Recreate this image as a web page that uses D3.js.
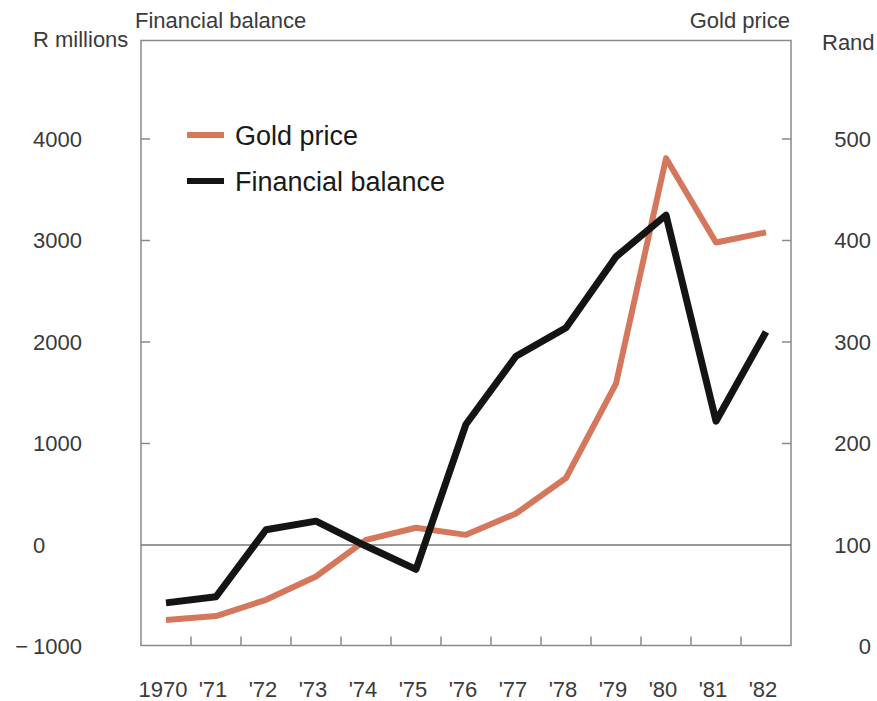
<!DOCTYPE html>
<html>
<head>
<meta charset="utf-8">
<script src="https://cdn.jsdelivr.net/npm/d3@7"></script>
<style>
  html, body { margin: 0; padding: 0; background: #ffffff; }
  svg { display: block; }
  text { font-family: "Liberation Sans", Arial, Helvetica, sans-serif; }
</style>
</head>
<body>
<div id="chart"></div>
<script>
// ---- data ----
const years = ["1970", "'71", "'72", "'73", "'74", "'75", "'76", "'77", "'78", "'79", "'80", "'81", "'82"];
const financialBalance = [-570, -510, 150, 235, -10, -240, 1190, 1860, 2140, 2840, 3250, 1220, 2100]; // R millions
const goldPrice = [26, 30, 46, 69, 105, 117, 110, 131, 166, 259, 481, 398, 408]; // Rand
const leftTicks = [-1000, 0, 1000, 2000, 3000, 4000];
const rightTicks = [0, 100, 200, 300, 400, 500];
const seriesNames = ["Gold price", "Financial balance"];

const W = 877, H = 701;
const frame = { left: 141, right: 791, top: 40.5, bottom: 645.5 };
const goldColor = "#d5775c";
const fbColor = "#141414";
const axisColor = "#8a8a8a";
const textColor = "#3a3a3a";

const svg = d3.select("#chart").append("svg").attr("width", W).attr("height", H);
svg.append("rect").attr("width", W).attr("height", H).attr("fill", "#ffffff");

const x = d3.scaleBand().domain(years).range([frame.left, frame.right]).padding(0);
const yL = d3.scaleLinear().domain([-1000, 4000]).range([646.5, 139]);
const yR = d3.scaleLinear().domain([0, 500]).range([646.5, 139]);
const cx = d => x(d) + x.bandwidth() / 2;

// frame
svg.append("rect")
  .attr("x", frame.left).attr("y", frame.top)
  .attr("width", frame.right - frame.left).attr("height", frame.bottom - frame.top)
  .attr("fill", "none").attr("stroke", axisColor).attr("stroke-width", 1.5);

// zero line
svg.append("line")
  .attr("x1", frame.left).attr("x2", frame.right)
  .attr("y1", yL(0)).attr("y2", yL(0))
  .attr("stroke", "#777").attr("stroke-width", 1.5);

// left ticks (inward)
svg.append("g").selectAll("line").data(leftTicks.filter(d => d > 0)).join("line")
  .attr("x1", frame.left).attr("x2", frame.left + 9)
  .attr("y1", d => yL(d)).attr("y2", d => yL(d))
  .attr("stroke", axisColor).attr("stroke-width", 1.5);
// right ticks (inward)
svg.append("g").selectAll("line").data(rightTicks.filter(d => d > 100)).join("line")
  .attr("x1", frame.right - 9).attr("x2", frame.right)
  .attr("y1", d => yR(d)).attr("y2", d => yR(d))
  .attr("stroke", axisColor).attr("stroke-width", 1.5);
// bottom ticks at year boundaries (upward)
svg.append("g").selectAll("line").data(years.slice(1)).join("line")
  .attr("x1", d => x(d)).attr("x2", d => x(d))
  .attr("y1", frame.bottom).attr("y2", frame.bottom - 9)
  .attr("stroke", axisColor).attr("stroke-width", 1.5);

// left tick labels (left aligned, minus hanging)
const lt = svg.append("g").attr("font-size", 22).attr("fill", textColor);
lt.selectAll("text.v").data(leftTicks).join("text").attr("class", "v")
  .attr("x", 33).attr("y", d => yL(d)).attr("dy", "0.35em")
  .attr("text-anchor", "start")
  .text(d => Math.abs(d));
lt.selectAll("text.m").data(leftTicks.filter(d => d < 0)).join("text").attr("class", "m")
  .attr("x", 28).attr("y", d => yL(d)).attr("dy", "0.35em")
  .attr("text-anchor", "end")
  .text("\u2212");

// right tick labels
svg.append("g").attr("font-size", 22).attr("fill", textColor)
  .selectAll("text").data(rightTicks).join("text")
  .attr("x", 871).attr("y", d => yR(d)).attr("dy", "0.35em")
  .attr("text-anchor", "end")
  .text(d => d);

// x labels
svg.append("g").attr("font-size", 22).attr("fill", textColor)
  .selectAll("text").data(years).join("text")
  .attr("x", d => cx(d) - 3).attr("y", 697)
  .attr("text-anchor", "middle")
  .text(d => d);

// axis titles
svg.append("text").attr("x", 33).attr("y", 47).attr("font-size", 22).attr("fill", textColor).text("R millions");
svg.append("text").attr("x", 822).attr("y", 50).attr("font-size", 22).attr("fill", textColor).text("Rand");
svg.append("text").attr("x", 135).attr("y", 28).attr("font-size", 22).attr("fill", textColor).text("Financial balance");
svg.append("text").attr("x", 790).attr("y", 28).attr("text-anchor", "end").attr("font-size", 22).attr("fill", textColor).text("Gold price");

// lines
const lineGold = d3.line().x((d, i) => cx(years[i])).y(d => yR(d));
const lineFB = d3.line().x((d, i) => cx(years[i])).y(d => yL(d));

svg.append("path").datum(goldPrice)
  .attr("d", lineGold).attr("fill", "none")
  .attr("stroke", goldColor).attr("stroke-width", 6)
  .attr("stroke-linejoin", "round").attr("stroke-linecap", "butt");
svg.append("path").datum(financialBalance)
  .attr("d", lineFB).attr("fill", "none")
  .attr("stroke", fbColor).attr("stroke-width", 7)
  .attr("stroke-linejoin", "round").attr("stroke-linecap", "butt");

// legend
const legend = svg.append("g");
const legendItems = [
  { name: seriesNames[0], color: goldColor, y: 135 },
  { name: seriesNames[1], color: fbColor, y: 181 }
];
legend.selectAll("line").data(legendItems).join("line")
  .attr("x1", 187).attr("x2", 224)
  .attr("y1", d => d.y).attr("y2", d => d.y)
  .attr("stroke", d => d.color).attr("stroke-width", 6);
legend.selectAll("text").data(legendItems).join("text")
  .attr("x", 235).attr("y", d => d.y + 10)
  .attr("font-size", 27).attr("fill", "#1a1a1a")
  .text(d => d.name);
</script>
</body>
</html>
